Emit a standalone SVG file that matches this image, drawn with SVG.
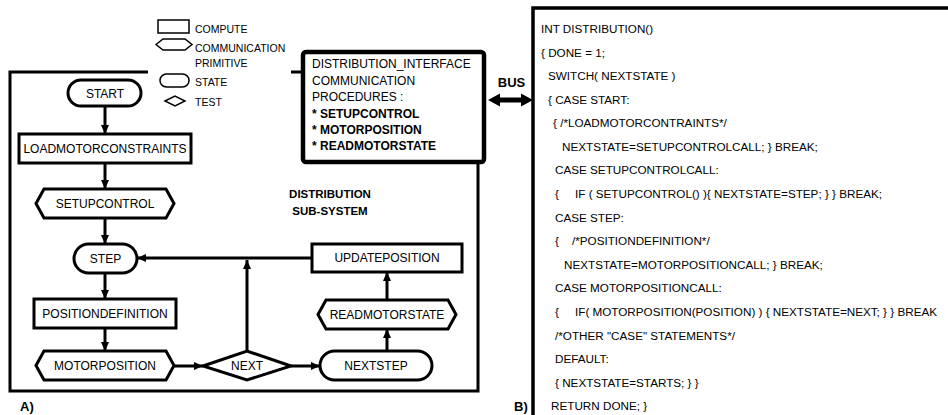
<svg xmlns="http://www.w3.org/2000/svg" width="948" height="415" viewBox="0 0 948 415">
<defs>
<marker id="ah" markerUnits="userSpaceOnUse" markerWidth="10" markerHeight="10" refX="9" refY="4" orient="auto"><path d="M0,0 L9,4 L0,8 z" fill="#000"/></marker>
<style>
.node{fill:#fff;stroke:#000;stroke-width:3}
.leg{fill:#fff;stroke:#000;stroke-width:1.5}
.t{font-family:"Liberation Sans",Arial,sans-serif;font-size:12px;text-anchor:middle;fill:#000}
.tl{font-family:"Liberation Sans",Arial,sans-serif;font-size:12px;text-anchor:start;fill:#000}
.lt{font-family:"Liberation Sans",Arial,sans-serif;font-size:10.5px;fill:#000}
.b{font-family:"Liberation Sans",Arial,sans-serif;font-weight:bold;fill:#000}
.code{font-family:"Liberation Sans",Arial,sans-serif;font-size:11.7px;fill:#000}
.edge{fill:none;stroke:#000;stroke-width:3;marker-end:url(#ah)}
.frame{fill:none;stroke:#000;stroke-width:3}
</style>
</defs>
<rect width="948" height="415" fill="#fff"/>

<g id="legend">
<rect class="leg" x="158" y="20" width="31" height="13"/>
<text class="lt" x="195" y="33">COMPUTE</text>
<polygon class="leg" points="156,44.5 163,39 185,39 192,44.5 185,50 163,50"/>
<text class="lt" x="195" y="51.5">COMMUNICATION</text>
<text class="lt" x="195" y="66.5">PRIMITIVE</text>
<rect class="leg" x="160" y="74" width="29" height="13" rx="6.5"/>
<text class="lt" x="195" y="86">STATE</text>
<polygon class="leg" points="165,101 175,96 185,101 175,106"/>
<text class="lt" x="195" y="106">TEST</text>
</g>

<g id="subsystem-frame">
<path class="frame" d="M148,72 H10 V391 H478 V162"/>
<path class="frame" d="M291,72 H303"/>
<text class="b" font-size="11.5" x="330" y="198" text-anchor="middle">DISTRIBUTION</text>
<text class="b" font-size="11.5" x="330" y="215" text-anchor="middle">SUB-SYSTEM</text>
<text class="b" font-size="13" x="20" y="411">A)</text>
</g>

<g id="interface">
<rect x="303" y="52" width="181" height="110" rx="3" fill="#fff" stroke="#000" stroke-width="4.5"/>
<text class="tl" x="312" y="68">DISTRIBUTION_INTERFACE</text>
<text class="tl" x="312" y="84.5">COMMUNICATION</text>
<text class="tl" x="312" y="101">PROCEDURES :</text>
<text class="b" font-size="12" x="312" y="117.5">* SETUPCONTROL</text>
<text class="b" font-size="12" x="312" y="133.5">* MOTORPOSITION</text>
<text class="b" font-size="12" x="312" y="150">* READMOTORSTATE</text>
</g>

<g id="bus">
<text class="b" font-size="13" x="511.5" y="87" text-anchor="middle">BUS</text>
<polygon points="488,100 500,93.5 500,97.5 521,97.5 521,93.5 533,100 521,106.5 521,102.5 500,102.5 500,106.5" fill="#000"/>
</g>

<g id="code">
<path d="M533,415 V8 H948" fill="none" stroke="#000" stroke-width="3.5"/>
<text class="code" x="541" y="33">INT DISTRIBUTION()</text>
<text class="code" x="541" y="56.5">{ DONE = 1;</text>
<text class="code" x="548" y="80">SWITCH( NEXTSTATE )</text>
<text class="code" x="548" y="103.6">{ CASE START:</text>
<text class="code" x="553" y="127.2">{ /*LOADMOTORCONTRAINTS*/</text>
<text class="code" x="562" y="150.8">NEXTSTATE=SETUPCONTROLCALL; } BREAK;</text>
<text class="code" x="555" y="174.4">CASE SETUPCONTROLCALL:</text>
<text class="code" x="555" y="198">{<tspan x="575">IF (  SETUPCONTROL() ){ NEXTSTATE=STEP; } } BREAK;</tspan></text>
<text class="code" x="555" y="221.6">CASE STEP:</text>
<text class="code" x="555" y="245.2">{<tspan x="572">/*POSITIONDEFINITION*/</tspan></text>
<text class="code" x="564" y="268.8">NEXTSTATE=MOTORPOSITIONCALL; } BREAK;</text>
<text class="code" x="555" y="292.4">CASE MOTORPOSITIONCALL:</text>
<text class="code" x="555" y="316">{<tspan x="575">IF(  MOTORPOSITION(POSITION) ) { NEXTSTATE=NEXT; } } BREAK</tspan></text>
<text class="code" x="555" y="339.6">/*OTHER "CASE" STATEMENTS*/</text>
<text class="code" x="555" y="363.2">DEFAULT:</text>
<text class="code" x="555" y="386.8">{ NEXTSTATE=STARTS; } }</text>
<text class="code" x="551" y="410.4">RETURN DONE; }</text>
<text class="b" font-size="13" x="514" y="411">B)</text>
</g>

<g id="connectors">
<path class="edge" d="M105,106 V134"/>
<path class="edge" d="M105,163 V189"/>
<path class="edge" d="M105,218 V244"/>
<path class="edge" d="M105,273 V299"/>
<path class="edge" d="M105,328 V351"/>
<path class="edge" d="M174,366 H203"/>
<path class="edge" d="M291,366 H320"/>
<path class="edge" d="M387,351 V329"/>
<path class="edge" d="M387,300 V272"/>
<path class="edge" d="M312,258 H137"/>
<path class="edge" d="M247,351 V260"/>
</g>

<g id="n-start"><rect class="node" x="68" y="80" width="73" height="26" rx="13"/><text class="t" x="105" y="97.5">START</text></g>
<g id="n-load"><rect class="node" x="19" y="134" width="172" height="29"/><text class="t" x="105" y="153">LOADMOTORCONSTRAINTS</text></g>
<g id="n-setup"><polygon class="node" points="36,203.5 44,189 166,189 174,203.5 166,218 44,218"/><text class="t" x="105" y="208">SETUPCONTROL</text></g>
<g id="n-step"><rect class="node" x="74" y="244" width="63" height="29" rx="14.5"/><text class="t" x="105.5" y="263">STEP</text></g>
<g id="n-update"><rect class="node" x="312" y="244" width="150" height="28"/><text class="t" x="387" y="262">UPDATEPOSITION</text></g>
<g id="n-posdef"><rect class="node" x="34" y="299" width="142" height="29"/><text class="t" x="105" y="318">POSITIONDEFINITION</text></g>
<g id="n-motor"><polygon class="node" points="36,365.5 44,351 166,351 174,365.5 166,380 44,380"/><text class="t" x="105" y="370">MOTORPOSITION</text></g>
<g id="n-next"><polygon class="node" points="203,366 247,351 291,366 247,380"/><text class="t" x="247" y="370">NEXT</text></g>
<g id="n-nextstep"><rect class="node" x="320" y="351" width="112" height="29" rx="14.5"/><text class="t" x="376" y="370">NEXTSTEP</text></g>
<g id="n-read"><polygon class="node" points="318,314.5 326,300 448,300 456,314.5 448,329 326,329"/><text class="t" x="387" y="319">READMOTORSTATE</text></g>
</svg>
